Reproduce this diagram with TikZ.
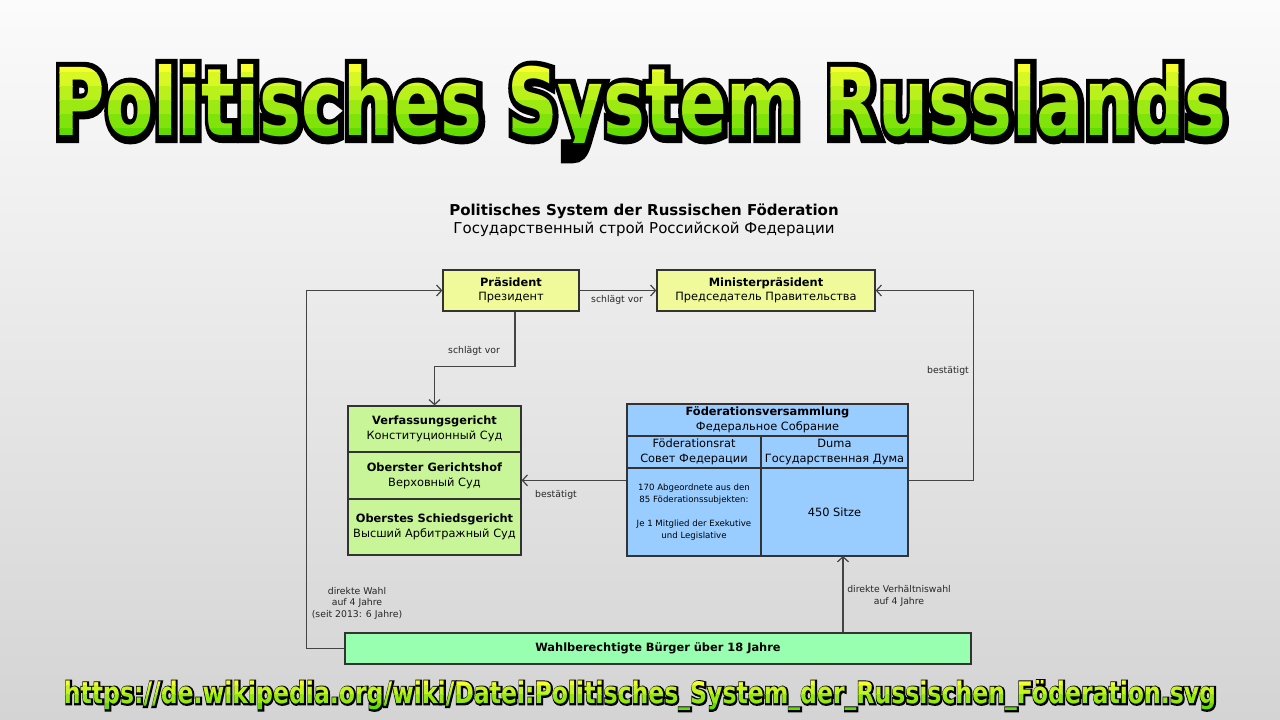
\documentclass[tikz,border=0pt]{standalone}
\usepackage{graphicx}
\usepackage{fontspec}
\setmainfont{DejaVu Sans}
\newfontfamily\outlinefont{DejaVu Sans}[BoldFeatures={FakeBold=14}]
\newfontfamily\outlinefontu{DejaVu Sans}[BoldFeatures={FakeBold=11}]
\usetikzlibrary{arrows.meta}
\definecolor{bgtop}{HTML}{FAFBFA}
\definecolor{bgbot}{HTML}{D4D4D4}
\definecolor{gtop}{HTML}{F6FF2C}
\definecolor{gbot}{HTML}{62DC00}
\definecolor{yelbox}{HTML}{F0FA9A}
\definecolor{grnbox}{HTML}{C8F598}
\definecolor{blubox}{HTML}{99CCFF}
\definecolor{mintbox}{HTML}{99FFB0}
\definecolor{linec}{HTML}{444444}
\definecolor{boxline}{HTML}{333333}
\newcommand\TitleTxt[1]{\resizebox{1172pt}{71pt}{#1\bfseries Politisches System Russlands}}
\newcommand\UrlTxt[1]{\resizebox{1152pt}{23pt}{#1\bfseries https://de.wikipedia.org/wiki/Datei:Politisches\_System\_der\_Russischen\_Föderation.svg}}
\begin{document}
\begin{tikzpicture}[x=1pt,y=-1pt,
  box/.style={draw=boxline, line width=1.3pt, inner sep=0pt, align=center,
    font=\fontsize{11.4}{14.5}\selectfont},
  small/.style={font=\fontsize{9.3}{11.5}\selectfont, align=center, text=black!85, inner sep=1pt},
  arr/.style={draw=linec, line width=1.2pt, -{Straight Barb[length=5pt,width=11pt,line width=1.2pt]}},
  big/.style={anchor=base, inner sep=0pt}]
\shade[top color=bgtop, bottom color=bgbot] (0,0) rectangle (1280,720);
\useasboundingbox (0,0) rectangle (1280,720);

% ---------- title ----------
\node[big, text=black] (tout) at (641,136.5) {\TitleTxt{\outlinefont}};
\foreach \i in {0,...,5} {
  \pgfmathtruncatemacro{\p}{100-\i*20}
  \begin{scope}
    \clip (0,{58+\i*14}) rectangle (1280,{58+\i*14+14.5});
    \node[big, text=gtop!\p!gbot] at (640,135) {\TitleTxt{}};
  \end{scope}
}

% ---------- url ----------
\node[big, text=black] (uout) at (640.7,703.8) {\UrlTxt{\outlinefontu}};
\foreach \i in {0,...,3} {
  \pgfmathtruncatemacro{\p}{100-\i*33}
  \begin{scope}
    \clip (0,{676+\i*9}) rectangle (1280,{676+\i*9+9.5});
    \node[big, text=gtop!\p!gbot] at (640,703) {\UrlTxt{}};
  \end{scope}
}

% ---------- heading ----------
\node[font=\bfseries\fontsize{15}{17}\selectfont, inner sep=0pt] (h1) at (644,211) {Politisches System der Russischen Föderation};
\node[font=\fontsize{15}{17}\selectfont, inner sep=0pt] (h2) at (644,229) {Государственный строй Российской Федерации};

% ---------- boxes ----------
\node[box, fill=yelbox, minimum width=136pt, minimum height=41pt] (praes) at (511,290.5) {\textbf{Präsident}\\Президент};
\node[box, fill=yelbox, minimum width=218pt, minimum height=41pt] (minis) at (766,290.5) {\textbf{Ministerpräsident}\\Председатель Правительства};

\node[box, fill=grnbox, minimum width=173pt, minimum height=46pt] (ct1) at (434.5,429) {\textbf{Verfassungsgericht}\\Конституционный Суд};
\node[box, fill=grnbox, minimum width=173pt, minimum height=48pt] (ct2) at (434.5,476) {\textbf{Oberster Gerichtshof}\\Верховный Суд};
\node[box, fill=grnbox, minimum width=173pt, minimum height=56pt] (ct3) at (434.5,527) {\textbf{Oberstes Schiedsgericht}\\Высший Арбитражный Суд};

\node[box, fill=blubox, minimum width=281pt, minimum height=32pt] (fvh) at (767.5,420) {\textbf{Föderationsversammlung}\\Федеральное Собрание};
\node[box, fill=blubox, minimum width=134pt, minimum height=32pt] (fvs1) at (694,452) {Föderationsrat\\Совет Федерации};
\node[box, fill=blubox, minimum width=147pt, minimum height=32pt] (fvs2) at (834.5,452) {Duma\\Государственная Дума};
\node[box, fill=blubox, minimum width=134pt, minimum height=88pt,
  font=\fontsize{8.6}{12}\selectfont] (fvb1) at (694,512) {170 Abgeordnete aus den\\85 Föderationssubjekten:\\[12pt]Je 1 Mitglied der Exekutive\\und Legislative};
\node[box, fill=blubox, minimum width=147pt, minimum height=88pt] (fvb2) at (834.5,512) {450 Sitze};

\node[box, fill=mintbox, minimum width=626pt, minimum height=31pt] (buerg) at (658,648.5) {\textbf{Wahlberechtigte Bürger über 18 Jahre}};

% ---------- connectors ----------
\draw[arr] (praes.east) -- (minis.west);
\node[small] (l1) at (617,300) {schlägt vor};

\draw[arr] (buerg.west) -- ++(-38,0) |- (praes.west);
\node[small] (l2) at (357,603) {direkte Wahl\\auf 4 Jahre\\(seit 2013: 6 Jahre)};

\draw[arr] ([xshift=4pt]praes.south) -- ++(0,55) -| (ct1.north);
\node[small] (l3) at (474,351) {schlägt vor};

\draw[arr] ([yshift=-13pt]fvb1.north west) -- ([yshift=-13pt]fvb1.north west -| ct2.east);
\node[small] (l4) at (556,495) {bestätigt};

\draw[arr] ([yshift=-13pt]fvb2.north east) -- ++(65,0) |- (minis.east);
\node[small] (l5) at (948,371) {bestätigt};

\coordinate (up) at (843,556);
\draw[arr] (buerg.north -| up) -- (up);
\node[small] (l6) at (899,596) {direkte Verhältniswahl\\auf 4 Jahre};
\end{tikzpicture}
\end{document}
